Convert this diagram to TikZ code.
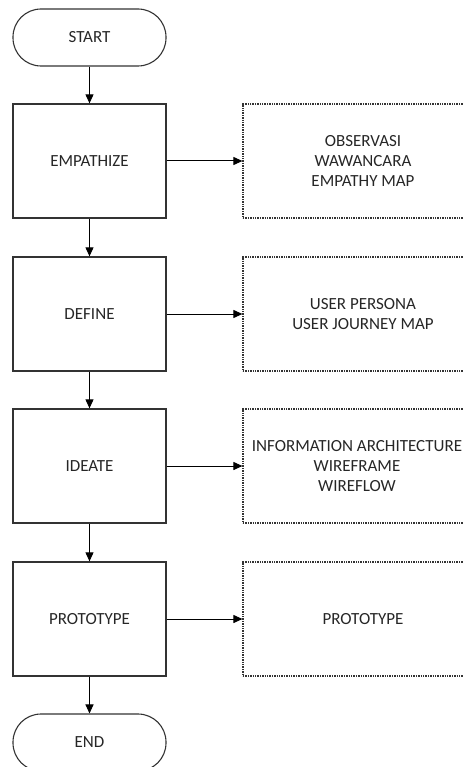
\documentclass[tikz,border=0pt]{standalone}
\usepackage{fontspec}
\setmainfont{Carlito}
\usetikzlibrary{arrows.meta}
\begin{document}
\begin{tikzpicture}[x=1pt,y=-1pt,
  every node/.style={font=\fontsize{17}{20}\selectfont, text=black!85, align=center, inner sep=0pt},
  term/.style={draw=black!80, line width=1.1pt, rounded corners=28pt, minimum width=153pt, minimum height=57pt},
  stepbox/.style={draw=black!80, line width=1.3pt, minimum width=153pt, minimum height=114pt},
  sidebox/.style={draw=black!80, line width=1.2pt, dash pattern=on 1.4pt off 1pt, minimum width=240pt, minimum height=114pt},
  conn/.style={draw=black, line width=1pt, -{Triangle[width=8pt,length=9pt]}}]
\useasboundingbox (0,0) rectangle (463,767);
\clip (0,0) rectangle (463,767);
\node[term] (start) at (89.5,37.5) {START};
\node[stepbox] (emp) at (89.5,161) {EMPATHIZE};
\node[stepbox] (def) at (89.5,314) {DEFINE};
\node[stepbox] (ide) at (89.5,466) {IDEATE};
\node[stepbox] (pro) at (89.5,619) {PROTOTYPE};
\node[term] (end) at (89.5,742.5) {END};
\node[sidebox] (semp) at (363,161) {OBSERVASI\\WAWANCARA\\EMPATHY MAP};
\node[sidebox] (sdef) at (363,314) {USER PERSONA\\USER JOURNEY MAP};
\node[sidebox] (side) at (363,466) {};
\node (sidetxt) at ([xshift=-6pt]side.center) {INFORMATION ARCHITECTURE\\WIREFRAME\\WIREFLOW};
\node[sidebox] (spro) at (363,619) {PROTOTYPE};
\draw[conn] (start) -- (emp);
\draw[conn] (emp) -- (def);
\draw[conn] (def) -- (ide);
\draw[conn] (ide) -- (pro);
\draw[conn] (pro) -- (end);
\draw[conn] (emp) -- (semp);
\draw[conn] (def) -- (sdef);
\draw[conn] (ide) -- (side);
\draw[conn] (pro) -- (spro);
\end{tikzpicture}
\end{document}
